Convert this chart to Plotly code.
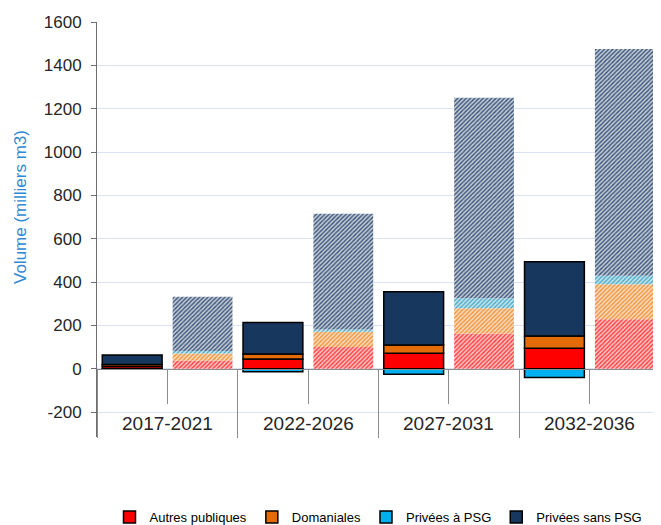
import plotly.graph_objects as go

# ---- data (milliers m3) ----
periods = ["2017-2021", "2022-2026", "2027-2031", "2032-2036"]
series_names = ["Autres publiques", "Domaniales", "Privées à PSG", "Privées sans PSG"]

# first bar of each period (solid)
autres_publiques = [10, 45, 72, 94]
domaniales = [10, 23, 38, 57]
privees_psg = [-2, -14, -26, -40]
privees_sans_psg = [43, 145, 245, 343]

# second bar of each period (hatched)
autres_publiques_h = [38, 100, 163, 228]
domaniales_h = [32, 71, 116, 162]
privees_psg_h = [12, 10, 46, 39]
privees_sans_psg_h = [250, 534, 925, 1046]

y_ticks = [-200, 0, 200, 400, 600, 800, 1000, 1200, 1400, 1600]

colors = ["#ff0000", "#e36c09", "#00b0f0", "#17375e"]
hatch_fg = ["#ff3a3a", "#f0923a", "#4aa9c4", "#3a5478"]
hatch_bg = ["#ffc4c4", "#fbdcbd", "#c6e6f0", "#c3ccd8"]

solid = [autres_publiques, domaniales, privees_psg, privees_sans_psg]
hatched = [autres_publiques_h, domaniales_h, privees_psg_h, privees_sans_psg_h]

x_solid = [2 * i for i in range(len(periods))]
x_hatch = [2 * i + 1 for i in range(len(periods))]

FONT = "Liberation Sans, Arial, sans-serif"

fig = go.Figure()
for name, vals, col in zip(series_names, solid, colors):
    fig.add_trace(go.Bar(
        x=x_solid, y=vals, name=name, width=0.85,
        marker=dict(color=col, line=dict(color="#000000", width=1.5)),
        legendgroup=name,
    ))
for name, vals, fg, bg in zip(series_names, hatched, hatch_fg, hatch_bg):
    fig.add_trace(go.Bar(
        x=x_hatch, y=vals, name=name, width=0.85, showlegend=False,
        legendgroup=name,
        marker=dict(color=fg, line=dict(width=0),
                    pattern=dict(shape="/", fgcolor=fg, bgcolor=bg,
                                 size=3, solidity=0.45, fillmode="replace")),
    ))

ymin, ymax = -315, 1600
zero_pos = (0 - ymin) / (ymax - ymin)

for i, p in enumerate(periods):
    fig.add_annotation(x=2 * i + 0.5, y=-252, xref="x", yref="y", text=p,
                       showarrow=False, font=dict(size=19, color="#262626", family=FONT))

# page body has an 8px margin: figure pixel = screen pixel - 8
# plot area on screen: x 97..660, y 22..437  -> figure: x 89..652, y 14..429
fig.add_annotation(x=(20 - 97) / (660 - 97), y=(437 - 207) / (437 - 22),
                   xref="paper", yref="paper", text="Volume (milliers m3)",
                   showarrow=False, textangle=-90, xanchor="center", yanchor="middle",
                   font=dict(size=17, color="#2f8ad3", family=FONT))

fig.update_layout(
    width=653, height=517,
    margin=dict(l=89, r=1, t=14, b=88, autoexpand=False),
    plot_bgcolor="#ffffff", paper_bgcolor="#ffffff",
    barmode="relative",
    font=dict(family=FONT, size=14, color="#262626"),
    xaxis=dict(
        range=[-0.5, 7.5], anchor="free", position=zero_pos, automargin=False,
        showticklabels=False, showgrid=False, zeroline=False,
        showline=True, linecolor="#8c8c8c", linewidth=1,
        ticks="outside", tick0=-0.5, dtick=2, ticklen=68, tickcolor="#8c8c8c", tickwidth=1,
        minor=dict(ticks="outside", tick0=-0.5, dtick=1, ticklen=34,
                   tickcolor="#8c8c8c", tickwidth=1, showgrid=False),
    ),
    yaxis=dict(
        range=[ymin, ymax], tickvals=y_ticks, ticktext=[str(v) for v in y_ticks],
        automargin=False, ticklabelstandoff=6,
        showgrid=True, gridcolor="#d9e3f5", gridwidth=1, zeroline=False,
        showline=True, linecolor="#6e6e6e", linewidth=1,
        ticks="outside", ticklen=5, tickcolor="#6e6e6e",
        tickfont=dict(size=17, color="#262626"),
    ),
    legend=dict(orientation="h", x=0.5, xanchor="center",
                y=-(517 - 437) / (437 - 22), yanchor="middle",
                font=dict(size=13, color="#000000"), traceorder="normal",
                itemwidth=30),
    showlegend=True,
)

fig.write_html("out.html")
